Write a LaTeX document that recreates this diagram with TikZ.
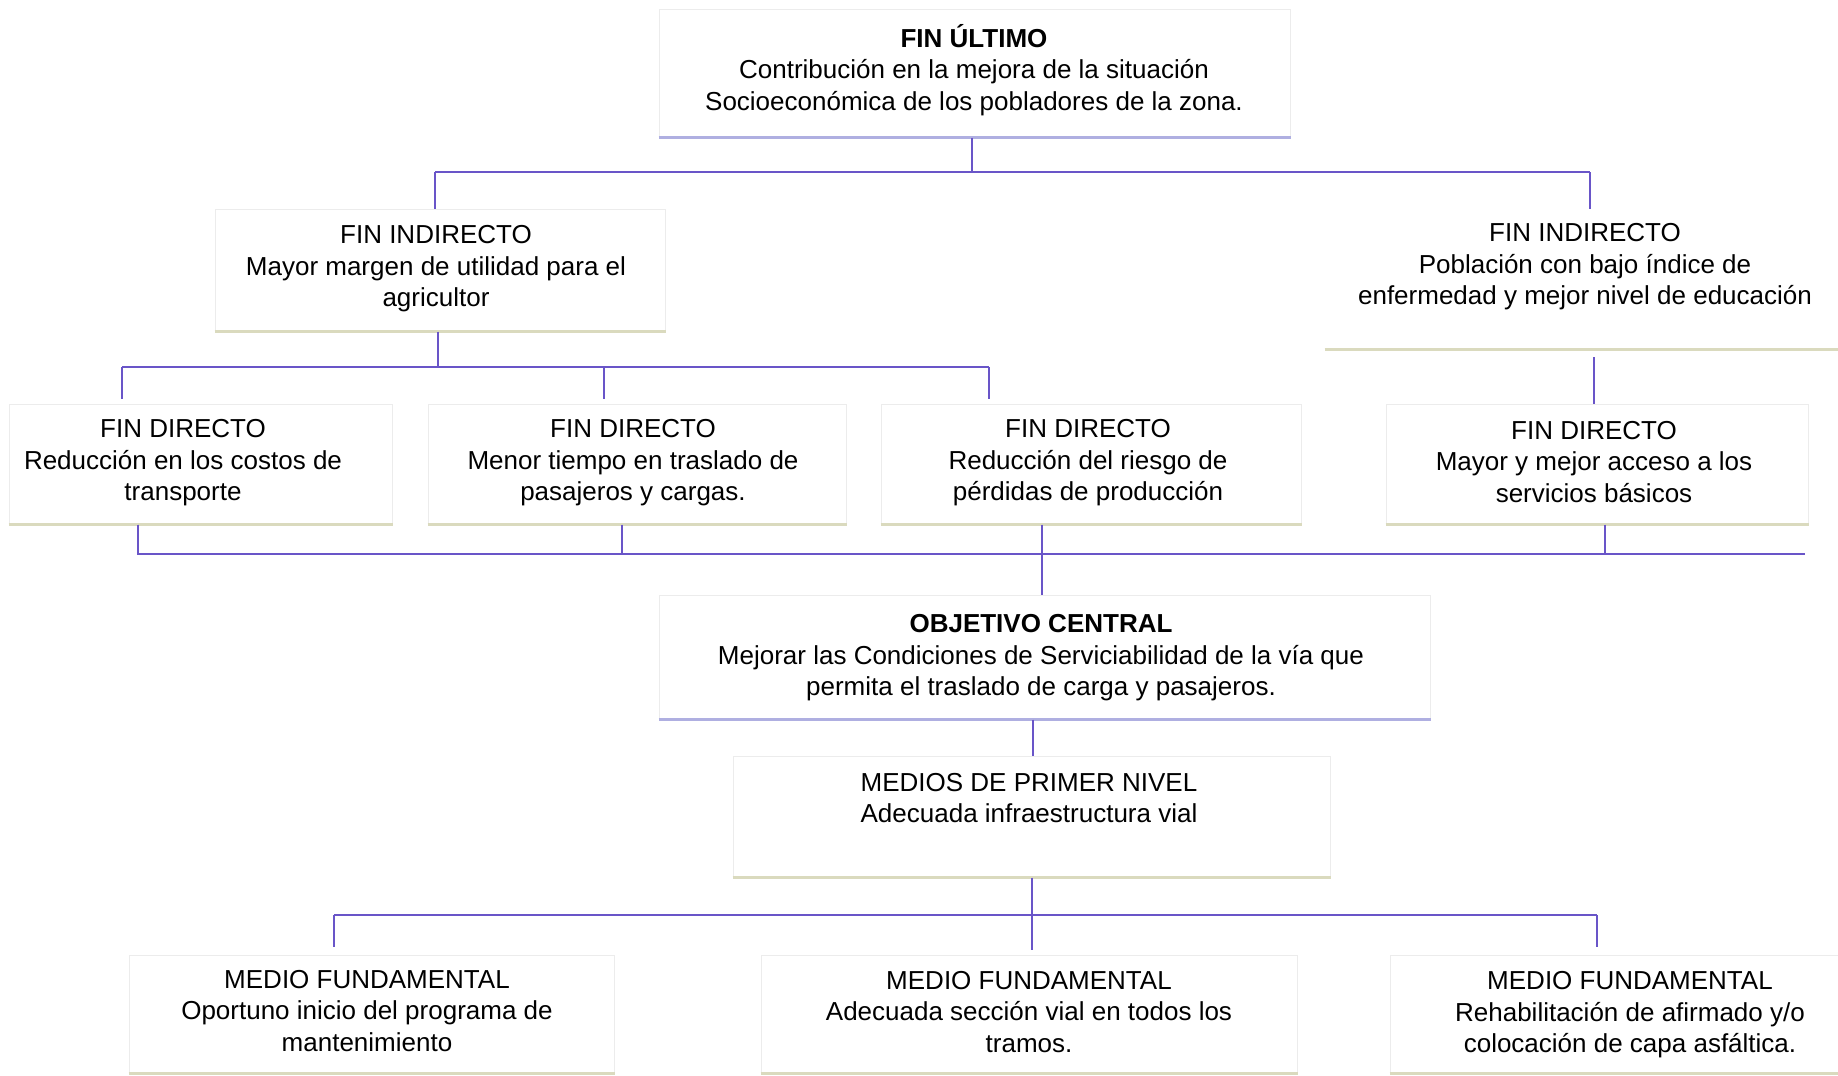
\documentclass[tikz,border=0pt]{standalone}
\usepackage{fontspec}
\setmainfont{Liberation Sans}
\usetikzlibrary{fit}

\definecolor{linkblue}{RGB}{105,85,200}
\definecolor{edgegray}{RGB}{236,236,236}
\definecolor{foot}{RGB}{218,218,190}
\definecolor{footblue}{RGB}{175,175,225}

\tikzset{
  frame/.style={draw=edgegray, line width=0.5pt, inner sep=0pt},
  txt/.style={align=center, font=\fontsize{13}{15.8}\selectfont, inner sep=0pt},
  link/.style={draw=linkblue, line width=1pt},
  bar/.style={draw=linkblue, line width=1.4pt}
}

\begin{document}
\begin{tikzpicture}[x=0.5pt, y=-0.5pt]
        \useasboundingbox (0,0) rectangle (1838,1076);
        % Frames
        \node[frame, fit={(659,9) (1290,137)}] (fu) {};
        \node[frame, fit={(215,209) (665,331)}] (fi1) {};
        \node[frame, draw=none, fit={(1325,209) (1838,349)}] (fi2) {};
        \node[frame, fit={(9,404) (392,524)}] (fd1) {};
        \node[frame, fit={(428,404) (846,524)}] (fd2) {};
        \node[frame, fit={(881,404) (1301,524)}] (fd3) {};
        \node[frame, fit={(1386,404) (1808,524)}] (fd4) {};
        \node[frame, fit={(659,595) (1430,719)}] (oc) {};
        \node[frame, fit={(733,756) (1330,877)}] (mp) {};
        \node[frame, fit={(129,955) (614,1073)}] (mf1) {};
        \node[frame, fit={(761,955) (1297,1073)}] (mf2) {};
        \node[frame, fit={(1390,955) (1838,1073)}] (mf3) {};
        % Bottom edges
        \foreach \n in {fi1,fi2,fd1,fd2,fd3,fd4,mp,mf1,mf2,mf3}
          \draw[foot, line width=1.2pt] (\n.south west) -- (\n.south east);
        \foreach \n in {fu,oc}
          \draw[footblue, line width=1.2pt] (\n.south west) -- (\n.south east);
        % Texts
        \node[txt] (tfu) at (974,70) {\textbf{FIN ÚLTIMO}\\Contribución en la mejora de la situación\\Socioeconómica de los pobladores de la zona.};
        \node[txt] (tfi1) at (436,269) {FIN INDIRECTO\\Mayor margen de utilidad para el\\agricultor};
        \node[txt] (tfi2) at (1585,267) {FIN INDIRECTO\\Población con bajo índice de\\enfermedad y mejor nivel de educación};
        \node[txt] (tfd1) at (183,463) {FIN DIRECTO\\Reducción en los costos de\\transporte};
        \node[txt] (tfd2) at (633,463) {FIN DIRECTO\\Menor tiempo en traslado de\\pasajeros y cargas.};
        \node[txt] (tfd3) at (1088,463) {FIN DIRECTO\\Reducción del riesgo de\\pérdidas de producción};
        \node[txt] (tfd4) at (1594,462) {FIN DIRECTO\\Mayor y mejor acceso a los\\servicios básicos};
        \node[txt] (toc) at (1041,658) {\textbf{OBJETIVO CENTRAL}\\Mejorar las Condiciones de Serviciabilidad de la vía que\\permita el traslado de carga y pasajeros.};
        \node[txt] (tmp) at (1029,798) {MEDIOS DE PRIMER NIVEL\\Adecuada infraestructura vial};
        \node[txt] (tmf1) at (367,1011) {MEDIO FUNDAMENTAL\\Oportuno inicio del programa de\\mantenimiento};
        \node[txt] (tmf2) at (1029,1012) {MEDIO FUNDAMENTAL\\Adecuada sección vial en todos los\\tramos.};
        \node[txt] (tmf3) at (1630,1015) {MEDIO FUNDAMENTAL\\Rehabilitación de afirmado y/o\\colocación de capa asfáltica.};
        % Junctions
        \coordinate (j1) at (972,172);
        \coordinate (j2) at (438,367);
        \coordinate (j3) at (1042,554);
        \coordinate (j4) at (1032,915);
        \coordinate (e3) at (1805,554);
        \coordinate (e4) at (1032,950);
        % Fin ultimo to fines indirectos
        \draw[link] (fu.south -| j1) -- (j1);
        \draw[bar] (435,172) -- (1590,172);
        \draw[link] (435,172) -- (fi1.north -| 435,0);
        \draw[link] (1590,172) -- (fi2.north -| 1590,0);
        % Fin indirecto to fines directos
        \draw[link] (fi1.south -| j2) -- (j2);
        \draw[bar] (122,367) -- (989,367);
        \foreach \x in {122,604,989}
          \draw[link] (\x,367) -- (\x,399);
        \draw[link] (1594,357) -- (fd4.north -| 1594,0);
        % Fines directos to objetivo central
        \foreach \x/\n in {138/fd1,622/fd2,1042/fd3,1605/fd4}
          \draw[link] (\n.south -| \x,0) -- (\x,554);
        \draw[bar] (fd1.south -| 138,554) |- (e3);
        \draw[link] (j3) -- (oc.north -| j3);
        % Objetivo central to medios
        \draw[link] (oc.south -| 1033,0) -- (mp.north -| 1033,0);
        \draw[link] (mp.south -| e4) -- (e4);
        \draw[bar] (334,915) -- (1597,915);
        \draw[link] (334,915) -- (334,947);
        \draw[link] (1597,915) -- (1597,947);
    \end{tikzpicture}
\end{document}
